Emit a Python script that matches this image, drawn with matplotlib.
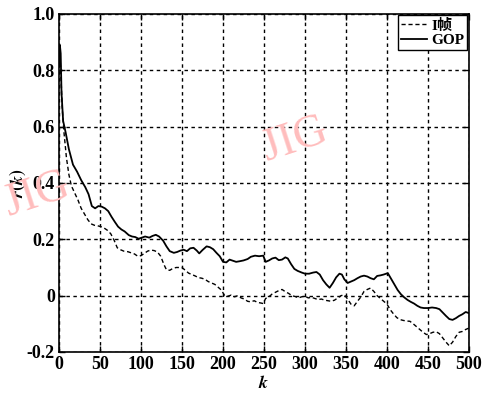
import numpy as np
import matplotlib
matplotlib.use("Agg")
import matplotlib.pyplot as plt

# -------- data --------
gop_k = [0, 1, 2, 3, 5, 8, 12, 17, 22, 27, 32, 36, 40, 44, 48, 52, 56, 60, 64, 68,
         72, 76, 80, 85, 89, 93, 97, 101, 105, 110, 114, 118, 122, 127, 131, 135, 140,
         144, 148, 152, 156, 160, 164, 168, 171, 175, 180, 184, 188, 192, 196, 200,
         204, 208, 212, 216, 220, 225, 230, 234, 239, 244, 249, 252, 256, 260, 264,
         268, 272, 276, 279, 283, 287, 291, 296, 300, 305, 310, 314, 318, 322, 326,
         330, 334, 338, 342, 345, 348, 352, 356, 360, 364, 368, 372, 376, 380, 384,
         388, 392, 396, 401, 405, 409, 413, 417, 421, 425, 429, 433, 437, 441, 445,
         450, 455, 460, 464, 468, 472, 476, 480, 484, 488, 492, 496, 500]
gop_r = [0.82, 0.89, 0.86, 0.72, 0.62, 0.58, 0.52, 0.465, 0.44, 0.41, 0.385, 0.36,
         0.318, 0.31, 0.318, 0.316, 0.31, 0.30, 0.28, 0.262, 0.245, 0.235, 0.228,
         0.215, 0.21, 0.208, 0.202, 0.206, 0.21, 0.206, 0.212, 0.216, 0.21, 0.195,
         0.175, 0.158, 0.152, 0.155, 0.16, 0.163, 0.158, 0.168, 0.17, 0.16, 0.15,
         0.162, 0.175, 0.172, 0.165, 0.152, 0.14, 0.12, 0.118, 0.128, 0.124, 0.12,
         0.122, 0.125, 0.13, 0.138, 0.142, 0.14, 0.142, 0.12, 0.125, 0.132, 0.135,
         0.126, 0.128, 0.136, 0.132, 0.112, 0.095, 0.088, 0.082, 0.078, 0.078, 0.082,
         0.084, 0.075, 0.055, 0.04, 0.028, 0.045, 0.065, 0.078, 0.075, 0.058, 0.045,
         0.05, 0.055, 0.062, 0.068, 0.071, 0.068, 0.062, 0.058, 0.07, 0.072, 0.075,
         0.08, 0.06, 0.04, 0.02, 0.005, -0.006, -0.015, -0.022, -0.028, -0.036,
         -0.042, -0.044, -0.044, -0.042, -0.044, -0.048, -0.06, -0.072, -0.083,
         -0.086, -0.08, -0.072, -0.066, -0.058, -0.062]

iframe_k = [0, 1, 2, 4, 6, 9, 12, 15, 19, 23, 27, 31, 35, 39, 43, 47, 51, 55, 59, 63,
            67, 71, 75, 79, 84, 88, 92, 96, 100, 104, 108, 112, 116, 120, 124, 128,
            131, 135, 139, 143, 147, 150, 154, 158, 162, 166, 170, 174, 178, 182, 186,
            190, 194, 198, 202, 206, 210, 214, 218, 222, 226, 230, 234, 238, 242, 246,
            249, 252, 256, 260, 264, 268, 272, 276, 280, 284, 288, 292, 296, 300, 304,
            308, 312, 316, 320, 324, 328, 332, 336, 340, 344, 348, 352, 356, 360, 364,
            368, 372, 376, 380, 384, 388, 392, 396, 400, 404, 408, 412, 416, 420, 424,
            428, 432, 436, 440, 444, 448, 452, 456, 460, 464, 468, 472, 476, 480, 484,
            488, 492, 496, 500]
iframe_r = [0.82, 0.86, 0.80, 0.66, 0.58, 0.49, 0.43, 0.39, 0.365, 0.34, 0.31, 0.29,
            0.27, 0.255, 0.25, 0.248, 0.245, 0.24, 0.232, 0.22, 0.198, 0.17, 0.163,
            0.158, 0.156, 0.152, 0.148, 0.14, 0.142, 0.15, 0.158, 0.162, 0.16, 0.155,
            0.14, 0.11, 0.092, 0.09, 0.097, 0.1, 0.1, 0.1, 0.09, 0.08, 0.075, 0.07,
            0.064, 0.062, 0.058, 0.05, 0.045, 0.04, 0.03, 0.02, 0.0, -0.002, 0.002,
            -0.004, 0.0, -0.008, -0.012, -0.02, -0.022, -0.018, -0.024, -0.026, -0.028,
            -0.01, -0.004, 0.006, 0.012, 0.018, 0.022, 0.014, 0.008, 0.0, -0.003,
            -0.008, -0.004, -0.002, -0.008, -0.006, -0.01, -0.014, -0.012, -0.016,
            -0.018, -0.02, -0.016, -0.008, 0.0, 0.003, -0.012, -0.03, -0.036, -0.02,
            -0.005, 0.015, 0.022, 0.027, 0.015, 0.0, -0.01, -0.02, -0.03, -0.05,
            -0.065, -0.078, -0.085, -0.088, -0.09, -0.091, -0.1, -0.11, -0.12, -0.13,
            -0.138, -0.135, -0.13, -0.128, -0.135, -0.15, -0.165, -0.178, -0.165,
            -0.145, -0.13, -0.127, -0.12, -0.115]

x_ticks = [0, 50, 100, 150, 200, 250, 300, 350, 400, 450, 500]
y_ticks = [-0.2, 0, 0.2, 0.4, 0.6, 0.8, 1.0]
y_ticklabels = ["-0.2", "0", "0.2", "0.4", "0.6", "0.8", "1.0"]
labels = ["I帧", "GOP"]

plt.rcParams["font.family"] = ["Liberation Serif", "Noto Sans CJK SC"]
plt.rcParams["font.weight"] = "bold"
plt.rcParams["mathtext.fontset"] = "stix"

fig = plt.figure(figsize=(4.88, 3.94), dpi=100)
ax = fig.add_axes([0.121, 0.1066, 0.840, 0.858])

# watermarks
wm = dict(color=(1.0, 0.74, 0.74), fontsize=33, rotation=18, fontweight="normal",
          ha="center", va="center", zorder=0)
fig.text(0.605, 0.645, "JIG", **wm)
fig.text(0.075, 0.505, "JIG", **wm)

ax.patch.set_alpha(0)
ax.plot(iframe_k, iframe_r, color="black", lw=1.0, ls=(0, (3, 2)), label=labels[0])
ax.plot(gop_k, gop_r, color="black", lw=1.3, ls="-", label=labels[1])

ax.set_xlim(0, 500)
ax.set_ylim(-0.2, 1.0)
ax.set_xticks(x_ticks)
ax.set_yticks(y_ticks)
ax.set_yticklabels(y_ticklabels)
ax.grid(True, color="black", ls=(0, (2.5, 2.5)), lw=1.0)
ax.tick_params(direction="in", length=4, width=1.0, top=True, right=True,
               labelsize=13, pad=3)
for s in ax.spines.values():
    s.set_linewidth(1.2)

ax.set_xlabel(r"$\mathbf{\mathit{k}}$", fontsize=13, labelpad=1)
ax.set_ylabel(r"$r(k)$", fontsize=13, labelpad=-1)

leg = ax.legend(loc="upper right", bbox_to_anchor=(1.0, 1.0), fontsize=11,
                handlelength=1.7, handletextpad=0.3, borderpad=0.2, labelspacing=0.05,
                fancybox=False, framealpha=1, edgecolor="black", borderaxespad=0.1)
leg.get_frame().set_linewidth(1.0)

fig.savefig("out.png", dpi=100)
